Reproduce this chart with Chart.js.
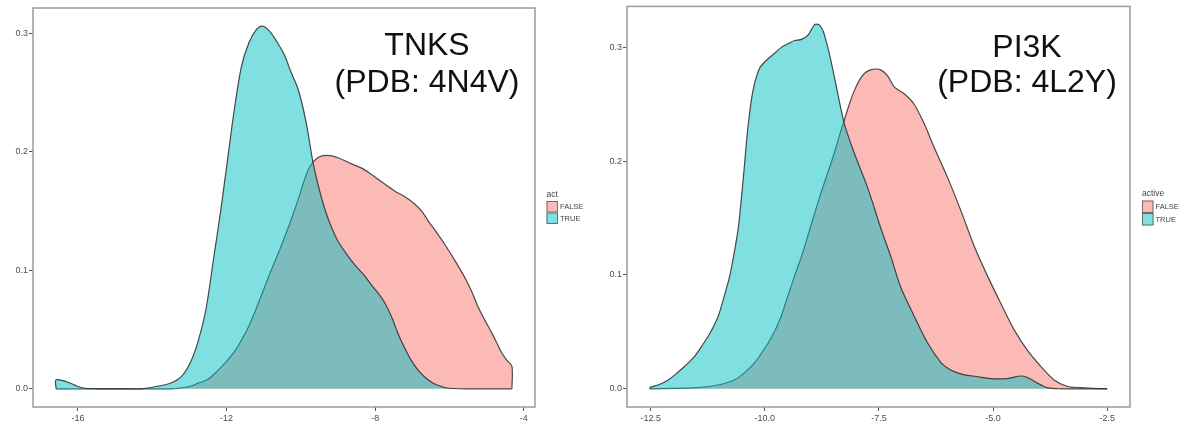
<!DOCTYPE html>
<html>
<head>
<meta charset="utf-8">
<title>Docking score density</title>
<script src="https://cdn.jsdelivr.net/npm/chart.js@4.4.1/dist/chart.umd.min.js"></script>
<style>
  body { margin: 0; background: #fff; }
  #wrap { position: relative; width: 1186px; height: 425px; }
  canvas { position: absolute; top: 0; }
</style>
</head>
<body>
<div id="wrap">
  <canvas id="tnksChart" width="590" height="425" style="left:0"></canvas>
  <canvas id="pi3kChart" width="596" height="425" style="left:590px"></canvas>
</div>
<script>
// ---- data ----
const densityTicks = [0, 0.1, 0.2, 0.3];

// TNKS (PDB: 4N4V)
const tnksXTicks = [-16, -12, -8, -4];
const tnksTrueX = [-16.59, -16.3, -16.0, -15.8, -15.4, -14.8, -14.3, -13.9, -13.5, -13.2, -12.95, -12.75, -12.55, -12.35,
  -12.16, -11.98, -11.8, -11.6, -11.4, -11.2, -11.04, -10.85, -10.65, -10.45, -10.25, -10.09, -9.95, -9.82, -9.68,
  -9.52, -9.37, -9.2, -9.01, -8.8, -8.56, -8.3, -8.11, -7.9, -7.75, -7.55, -7.39, -7.2, -7.03, -6.85, -6.67, -6.45,
  -6.22, -6.0, -5.5, -5.0, -4.32];
const tnksTrueY = [0.0076, 0.006, 0.002, 0.0005, 0, 0, 0, 0.002, 0.005, 0.011, 0.024, 0.042, 0.068, 0.11,
  0.15, 0.192, 0.234, 0.272, 0.292, 0.303, 0.306, 0.302, 0.293, 0.282, 0.266, 0.254, 0.238, 0.218, 0.192,
  0.17, 0.153, 0.138, 0.125, 0.115, 0.105, 0.096, 0.088, 0.08, 0.073, 0.06, 0.047, 0.034, 0.024, 0.016, 0.01, 0.005,
  0.002, 0.0005, 0, 0, 0];
const tnksFalseX = [-16.59, -13.5, -13.3, -13.0, -12.75, -12.52, -12.25, -11.98, -11.8, -11.62, -11.4, -11.2, -11.0,
  -10.8, -10.6, -10.4, -10.18, -10.05, -9.91, -9.75, -9.55, -9.3, -9.0, -8.65, -8.35, -8.11, -7.8, -7.48, -7.2,
  -6.94, -6.75, -6.58, -6.35, -6.13, -5.85, -5.59, -5.4, -5.23, -5.05, -4.86, -4.7, -4.59, -4.45, -4.32];
const tnksFalseY = [0, 0, 0.0005, 0.002, 0.005, 0.0076, 0.015, 0.024, 0.031, 0.04, 0.053, 0.068, 0.084,
  0.1, 0.115, 0.131, 0.15, 0.162, 0.176, 0.188, 0.195, 0.197, 0.195, 0.19, 0.186, 0.181, 0.174, 0.167, 0.162,
  0.156, 0.15, 0.142, 0.132, 0.122, 0.108, 0.094, 0.082, 0.069, 0.058, 0.047, 0.037, 0.03, 0.024, 0.019];

// PI3K (PDB: 4L2Y)
const pi3kXTicks = [-12.5, -10.0, -7.5, -5.0, -2.5];
const pi3kTrueX = [-12.52, -12.3, -12.11, -11.95, -11.75, -11.55, -11.39, -11.2, -11.02, -10.9, -10.77, -10.67,
  -10.58, -10.47, -10.37, -10.26, -10.11, -9.93, -9.78, -9.64, -9.5, -9.35, -9.2, -9.05, -8.91, -8.82, -8.73,
  -8.64, -8.55, -8.4, -8.26, -8.04, -7.75, -7.45, -7.23, -7.02, -6.73, -6.43, -6.14, -5.95, -5.78, -5.6, -5.41,
  -5.05, -4.69, -4.45, -4.32, -4.15, -4.03, -3.81, -3.5, -3.0, -2.5];
const pi3kTrueY = [0.001, 0.004, 0.008, 0.013, 0.02, 0.028, 0.037, 0.049, 0.064, 0.08, 0.099, 0.12,
  0.142, 0.186, 0.23, 0.262, 0.282, 0.29, 0.295, 0.3, 0.303, 0.306, 0.307, 0.311, 0.32, 0.32, 0.315,
  0.303, 0.288, 0.259, 0.233, 0.207, 0.177, 0.14, 0.115, 0.089, 0.064, 0.04, 0.023, 0.017, 0.014, 0.012, 0.011,
  0.009, 0.009, 0.011, 0.011, 0.008, 0.005, 0.001, 0, 0, 0];
const pi3kFalseX = [-12.52, -12.0, -11.5, -11.24, -10.95, -10.66, -10.45, -10.22, -10.08, -9.93, -9.78, -9.64,
  -9.5, -9.35, -9.2, -9.06, -8.92, -8.77, -8.62, -8.48, -8.37, -8.26, -8.15, -8.04, -7.93, -7.82, -7.7, -7.57,
  -7.45, -7.31, -7.16, -6.94, -6.73, -6.51, -6.29, -6.0, -5.71, -5.41, -5.12, -4.83, -4.54, -4.25, -3.96, -3.67,
  -3.37, -3.08, -2.8, -2.5];
const pi3kFalseY = [0, 0.0003, 0.001, 0.002, 0.004, 0.008, 0.014, 0.023, 0.031, 0.04, 0.051, 0.064,
  0.081, 0.099, 0.116, 0.134, 0.153, 0.172, 0.19, 0.207, 0.222, 0.236, 0.25, 0.262, 0.271, 0.277, 0.28, 0.281,
  0.28, 0.275, 0.265, 0.259, 0.25, 0.233, 0.212, 0.186, 0.157, 0.125, 0.099, 0.075, 0.052, 0.034, 0.02, 0.008,
  0.002, 0.001, 0.0003, 0];

const FONT = '"Liberation Sans", Arial, sans-serif';
const PINK = 'rgba(248,118,109,0.5)';
const TEAL = 'rgba(0,191,196,0.5)';
const OUTLINE = 'rgba(45,45,45,0.85)';

// density polygon: drop to zero at both ends of the range
function toPoints(xs, ys) {
  const pts = xs.map((x, i) => ({ x: x, y: ys[i] }));
  return [{ x: xs[0], y: 0 }].concat(pts, [{ x: xs[xs.length - 1], y: 0 }]);
}

// border, big label and the little ggplot style legend
function panelDecor(o) {
  return {
    id: 'panelDecor',
    afterDraw(chart) {
      const ctx = chart.ctx, a = chart.chartArea;
      ctx.save();
      ctx.strokeStyle = '#9a9a9a';
      ctx.lineWidth = 1.5;
      ctx.strokeRect(a.left, a.top, a.right - a.left, a.bottom - a.top);

      ctx.fillStyle = '#111';
      ctx.font = '32px ' + FONT;
      ctx.textAlign = 'center';
      ctx.textBaseline = 'alphabetic';
      ctx.fillText(o.title[0], o.titleX, o.titleY[0]);
      ctx.fillText(o.title[1], o.titleX, o.titleY[1]);

      const L = o.legend;
      ctx.textAlign = 'left';
      ctx.textBaseline = 'middle';
      ctx.fillStyle = '#444';
      ctx.font = '8.5px ' + FONT;
      ctx.fillText(L.title, L.x, L.titleY);
      const keys = [['FALSE', PINK], ['TRUE', TEAL]];
      keys.forEach((k, i) => {
        const y = L.y + i * L.h;
        ctx.fillStyle = '#fff';
        ctx.fillRect(L.x, y, L.w, L.h);
        ctx.fillStyle = k[1];
        ctx.fillRect(L.x, y, L.w, L.h);
        ctx.strokeStyle = '#555';
        ctx.lineWidth = 0.8;
        ctx.strokeRect(L.x + 0.5, y + 0.5, L.w - 1, L.h - 1);
        ctx.fillStyle = '#444';
        ctx.font = '7.5px ' + FONT;
        ctx.fillText(k[0], L.x + L.w + 2, y + L.h / 2 + 0.5);
      });
      ctx.restore();
    }
  };
}

function densityChart(id, o) {
  const dsBase = { pointRadius: 0, borderColor: OUTLINE, borderWidth: 1.2, tension: 0.3, fill: 'origin' };
  return new Chart(document.getElementById(id), {
    type: 'line',
    data: {
      datasets: [
        Object.assign({ label: 'FALSE', data: toPoints(o.falseX, o.falseY), backgroundColor: PINK, order: 1 }, dsBase),
        Object.assign({ label: 'TRUE', data: toPoints(o.trueX, o.trueY), backgroundColor: TEAL, order: 0 }, dsBase)
      ]
    },
    options: {
      responsive: false,
      animation: false,
      layout: { padding: o.padding },
      plugins: { legend: { display: false }, tooltip: { enabled: false } },
      scales: {
        x: {
          type: 'linear', min: o.xMin, max: o.xMax,
          afterBuildTicks: ax => { ax.ticks = o.xTicks.map(v => ({ value: v })); },
          afterFit: s => { s.height = 18; },
          border: { display: false },
          grid: { drawOnChartArea: false, drawTicks: true, tickLength: 4, color: '#555' },
          ticks: { autoSkip: false, maxRotation: 0, padding: 2, color: '#4d4d4d',
                   font: { family: FONT, size: 9 }, callback: o.xFormat }
        },
        y: {
          type: 'linear', min: o.yMin, max: o.yMax,
          afterBuildTicks: ax => { ax.ticks = densityTicks.map(v => ({ value: v })); },
          afterFit: s => { s.width = o.yWidth; },
          border: { display: false },
          grid: { drawOnChartArea: false, drawTicks: true, tickLength: 4, color: '#555' },
          ticks: { autoSkip: false, padding: 1, color: '#4d4d4d',
                   font: { family: FONT, size: 9 }, callback: v => v.toFixed(1) }
        }
      }
    },
    plugins: [panelDecor(o)]
  });
}

densityChart('tnksChart', {
  trueX: tnksTrueX, trueY: tnksTrueY, falseX: tnksFalseX, falseY: tnksFalseY,
  xTicks: tnksXTicks, xFormat: v => String(v),
  xMin: -17.21, xMax: -3.70, yMin: -0.0153, yMax: 0.3213,
  yWidth: 33, padding: { left: 0, right: 55, top: 8, bottom: 0 },
  title: ['TNKS', '(PDB: 4N4V)'], titleX: 427, titleY: [55, 92],
  legend: { title: 'act', x: 546.5, titleY: 195, y: 201, w: 11.5, h: 11.5 }
});

densityChart('pi3kChart', {
  trueX: pi3kTrueX, trueY: pi3kTrueY, falseX: pi3kFalseX, falseY: pi3kFalseY,
  xTicks: pi3kXTicks, xFormat: v => v.toFixed(1),
  xMin: -13.02, xMax: -2.0, yMin: -0.016, yMax: 0.336,
  yWidth: 37, padding: { left: 0, right: 56, top: 5, bottom: 0 },
  title: ['PI3K', '(PDB: 4L2Y)'], titleX: 437, titleY: [57, 92],
  legend: { title: 'active', x: 552, titleY: 193.5, y: 200.5, w: 11.5, h: 12.5 }
});
</script>
</body>
</html>
